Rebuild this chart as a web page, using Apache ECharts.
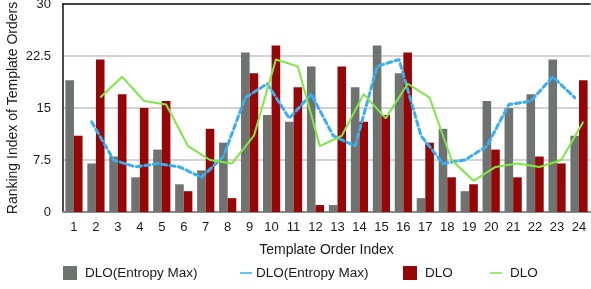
<!DOCTYPE html>
<html>
<head>
<meta charset="utf-8">
<script src="https://cdn.jsdelivr.net/npm/echarts@6/dist/echarts.min.js"></script>
<style>
html,body{margin:0;padding:0;background:#fff;}
#chart{width:591px;height:289px;}
</style>
</head>
<body>
<div id="chart"></div>
<script>
var categories = ['1','2','3','4','5','6','7','8','9','10','11','12','13','14','15','16','17','18','19','20','21','22','23','24'];
var entropyMaxBars = [19, 7, 8, 5, 9, 4, 6, 10, 23, 14, 13, 21, 1, 18, 24, 20, 2, 12, 3, 16, 15, 17, 22, 11];
var dloBars = [11, 22, 17, 15, 16, 3, 12, 2, 20, 24, 18, 1, 21, 13, 14, 23, 10, 5, 4, 9, 5, 8, 7, 19];
var entropyMaxTrend = [null, 13, 7.5, 6.5, 7, 6.5, 5, 8, 16.5, 18.5, 13.5, 17, 11, 9.5, 21, 22, 11, 7, 7.5, 9.5, 15.5, 16, 19.5, 16.5];
var dloTrend = [null, 16.5, 19.5, 16, 15.5, 9.5, 7.5, 7, 11, 22, 21, 9.5, 11, 17, 13.5, 18.5, 16.5, 7.5, 4.5, 6.5, 7, 6.5, 7.5, 13];
var yTicks = {min: 0, max: 30, interval: 7.5};

var FONT = 'Liberation Sans';
var TXT = '#1a1a1a';
var GREY = '#6e7370';
var RED = '#950707';
var BLUE = '#3aaef2';
var GREEN = '#7de844';
var BW = 8.6;
var L = 63, W = 527, T = 4, H = 208;

var chart = echarts.init(document.getElementById('chart'), null, {renderer: 'canvas'});

function hiddenX(gi) {
  return {type: 'category', gridIndex: gi, data: categories, show: false, boundaryGap: true};
}
function hiddenY(gi) {
  return {type: 'value', gridIndex: gi, min: yTicks.min, max: yTicks.max, interval: yTicks.interval, show: false};
}

function legendAt(left, name, w, h, textPad) {
  return {
    top: 266, left: left, padding: 0, itemGap: 0,
    data: [name], icon: 'rect', itemWidth: w, itemHeight: h,
    textStyle: {fontFamily: FONT, fontSize: 13.5, color: TXT, padding: [0, 0, 0, textPad]},
    formatter: function (n) { return n.trim(); },
    selectedMode: false
  };
}

chart.setOption({
  animation: false,
  backgroundColor: '#fff',
  grid: [
    {left: L, top: T, width: W, height: H, outerBoundsMode: 'none'},
    {left: L - BW / 2, top: T, width: W, height: H, outerBoundsMode: 'none'},
    {left: L + BW / 2, top: T, width: W, height: H, outerBoundsMode: 'none'}
  ],
  legend: [
    legendAt(63, 'DLO(Entropy Max)', 14, 14, 3),
    legendAt(240, 'DLO(Entropy Max) ', 12, 1.5, -1),
    legendAt(403, 'DLO', 14, 14, 3),
    legendAt(490, 'DLO ', 12, 1.5, 3)
  ],
  xAxis: [
    {
      type: 'category', gridIndex: 0, data: categories, boundaryGap: true,
      name: 'Template Order Index', nameLocation: 'middle', nameGap: 31,
      nameTextStyle: {fontFamily: FONT, fontSize: 14, color: TXT},
      axisLine: {show: true, lineStyle: {color: '#8a8a8a', width: 2}},
      axisTick: {show: false},
      axisLabel: {fontFamily: FONT, fontSize: 13, color: TXT, margin: 9, interval: 0}
    },
    {
      type: 'category', gridIndex: 0, data: categories, position: 'top',
      axisLine: {show: true, lineStyle: {color: '#111', width: 1.5}},
      axisTick: {show: false}, axisLabel: {show: false}
    },
    hiddenX(1),
    hiddenX(2)
  ],
  yAxis: [
    {
      type: 'value', gridIndex: 0, min: yTicks.min, max: yTicks.max, interval: yTicks.interval,
      name: 'Ranking Index of Template Orders', nameLocation: 'middle', nameGap: 43,
      nameMoveOverlap: false,
      nameTextStyle: {fontFamily: FONT, fontSize: 14, color: TXT},
      axisLine: {show: true, lineStyle: {color: '#111', width: 1.5}},
      axisTick: {show: false},
      axisLabel: {fontFamily: FONT, fontSize: 13, color: TXT, margin: 12},
      splitLine: {show: true, lineStyle: {color: '#d2d2d2', width: 2}}
    },
    hiddenY(1),
    hiddenY(2)
  ],
  series: [
    {
      name: 'DLO(Entropy Max)', type: 'bar', xAxisIndex: 0, yAxisIndex: 0,
      data: entropyMaxBars, barWidth: BW, barGap: '0%',
      itemStyle: {color: GREY}
    },
    {
      name: 'DLO', type: 'bar', xAxisIndex: 0, yAxisIndex: 0,
      data: dloBars, barWidth: BW, barGap: '0%',
      itemStyle: {color: RED}
    },
    {
      name: 'DLO(Entropy Max) ', type: 'line', xAxisIndex: 2, yAxisIndex: 1,
      data: entropyMaxTrend, showSymbol: false, symbol: 'none',
      lineStyle: {color: BLUE, width: 3, type: [5, 3.5], cap: 'round'},
      itemStyle: {color: BLUE}
    },
    {
      name: 'DLO ', type: 'line', xAxisIndex: 3, yAxisIndex: 2,
      data: dloTrend, showSymbol: false, symbol: 'none',
      lineStyle: {color: GREEN, width: 2},
      itemStyle: {color: GREEN}
    }
  ]
});
</script>
</body>
</html>
